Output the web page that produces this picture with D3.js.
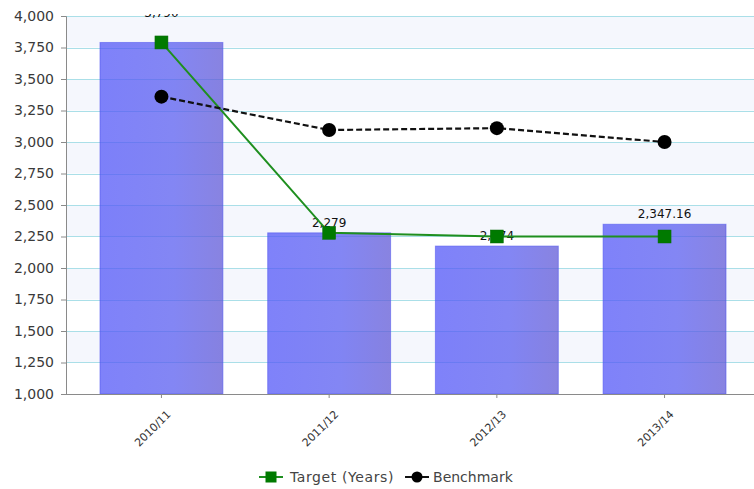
<!DOCTYPE html>
<html>
<head>
<meta charset="utf-8">
<script src="https://cdnjs.cloudflare.com/ajax/libs/d3/7.8.5/d3.min.js"></script>
<style>
  html, body { margin: 0; padding: 0; background: #fff; }
  svg { display: block; font-family: "DejaVu Sans", Verdana, sans-serif; }
</style>
</head>
<body>
<svg id="chart" width="754" height="489"></svg>
<script>
// Financial years on the x axis
const categories = ["2010/11", "2011/12", "2012/13", "2013/14"];
// Actual values (bars)
const actualValues = [3790, 2279, 2174, 2347.16];
// Target line
const targetValues = [3790, 2279, 2250, 2250];
// Benchmark line
const benchmarkValues = [3360, 3095, 3110, 3000];
// Y axis ticks
const yTicks = [1000, 1250, 1500, 1750, 2000, 2250, 2500, 2750, 3000, 3250, 3500, 3750, 4000];

const W = 754, H = 489;
const plot = { left: 66, right: 754, top: 16, bottom: 394 };

const svg = d3.select("#chart");
const defs = svg.append("defs");

const grad = defs.append("linearGradient")
  .attr("id", "barFill").attr("x1", "0%").attr("x2", "100%").attr("y1", "0%").attr("y2", "0%");
grad.append("stop").attr("offset", "0%").attr("stop-color", "#5256f8");
grad.append("stop").attr("offset", "60%").attr("stop-color", "#585cf0");
grad.append("stop").attr("offset", "100%").attr("stop-color", "#5f58d6");

// Labels are cut off just above the plot area
defs.append("clipPath").attr("id", "labelClip")
  .append("rect").attr("x", 0).attr("y", 14).attr("width", W).attr("height", H);

const y = d3.scaleLinear().domain([1000, 4000]).range([plot.bottom, plot.top]);
const x = d3.scaleBand().domain(categories)
  .range([77.6, 748.4]).paddingInner(0.267).paddingOuter(0.1335);

// Alternating background bands
const bands = d3.pairs(yTicks);
svg.append("g").selectAll("rect").data(bands).join("rect")
  .attr("x", plot.left).attr("width", plot.right - plot.left)
  .attr("y", d => y(d[1])).attr("height", d => y(d[0]) - y(d[1]))
  .attr("fill", (d, i) => i % 2 === 1 ? "#f5f7fd" : "#ffffff");

// Horizontal grid lines
svg.append("g").selectAll("line").data(yTicks.slice(1)).join("line")
  .attr("x1", plot.left).attr("x2", plot.right)
  .attr("y1", d => Math.round(y(d)) + 0.5).attr("y2", d => Math.round(y(d)) + 0.5)
  .attr("stroke", "#aadfe8").attr("stroke-width", 1.2);

// Bars
svg.append("g").selectAll("rect").data(categories).join("rect")
  .attr("x", d => x(d)).attr("width", x.bandwidth())
  .attr("y", (d, i) => y(actualValues[i]))
  .attr("height", (d, i) => y(1000) - y(actualValues[i]))
  .attr("fill", "url(#barFill)").attr("fill-opacity", 0.74)
  .attr("stroke", "#4f53ee").attr("stroke-opacity", 0.55).attr("stroke-width", 1);

// Axes
const yAxis = svg.append("g").attr("transform", `translate(${plot.left},0)`)
  .call(d3.axisLeft(y).tickValues(yTicks).tickSize(5).tickPadding(7).tickFormat(d3.format(",")));
yAxis.select(".domain").attr("stroke", "#8a8a8a");
yAxis.selectAll(".tick line").attr("stroke", "#8a8a8a");
yAxis.selectAll("text").attr("font-size", 14).attr("fill", "#3a3a3a")
  .attr("font-family", "DejaVu Sans, sans-serif");

const xAxis = svg.append("g").attr("transform", `translate(0,${plot.bottom})`)
  .call(d3.axisBottom(x).tickSize(4).tickSizeOuter(0));
xAxis.select(".domain").attr("stroke", "#8a8a8a").attr("d", `M${plot.left},0.5H${plot.right}`);
xAxis.selectAll(".tick line").attr("stroke", "#8a8a8a");
xAxis.selectAll("text")
  .attr("font-size", 11).attr("fill", "#333").attr("font-family", "DejaVu Sans, sans-serif")
  .attr("text-anchor", "end").attr("dy", null).attr("y", 0)
  .attr("transform", "translate(10,21) rotate(-45)");

// Value labels above bars; a label too close to the top is pushed up and clipped
svg.append("g").attr("clip-path", "url(#labelClip)")
  .selectAll("text").data(categories).join("text")
  .attr("x", d => x(d) + x.bandwidth() / 2)
  .attr("y", (d, i) => {
    const ly = y(actualValues[i]) - 6;
    return ly < plot.top + 24 ? plot.top + 0.5 : ly;
  })
  .attr("text-anchor", "middle").attr("font-size", 12).attr("fill", "#111")
  .text((d, i) => d3.format(",")(actualValues[i]));

const cx = d => x(d) + x.bandwidth() / 2;

// Target line
const seriesLine = d3.line().x((d, i) => cx(categories[i])).y(d => y(d));
svg.append("path").datum(targetValues)
  .attr("d", seriesLine).attr("fill", "none")
  .attr("stroke", "#1f8f1f").attr("stroke-width", 2);
svg.append("g").selectAll("rect").data(targetValues).join("rect")
  .attr("x", (d, i) => cx(categories[i]) - 6.5).attr("y", d => y(d) - 6.5)
  .attr("width", 13).attr("height", 13)
  .attr("fill", "#007a00").attr("stroke", "#0a6a0a").attr("stroke-width", 0.5);

// Benchmark line
svg.append("path").datum(benchmarkValues)
  .attr("d", seriesLine).attr("fill", "none")
  .attr("stroke", "#111").attr("stroke-width", 2.2).attr("stroke-dasharray", "6,3");
svg.append("g").selectAll("circle").data(benchmarkValues).join("circle")
  .attr("cx", (d, i) => cx(categories[i])).attr("cy", d => y(d))
  .attr("r", 7).attr("fill", "#000");

// Legend
const legend = svg.append("g").attr("transform", "translate(259,477)");
const lg1 = legend.append("g");
lg1.append("line").attr("x1", 0).attr("x2", 24).attr("y1", 0).attr("y2", 0)
  .attr("stroke", "#1f8f1f").attr("stroke-width", 2);
lg1.append("rect").attr("x", 6.5).attr("y", -5.5).attr("width", 11).attr("height", 11).attr("fill", "#007a00");
const t1 = lg1.append("text").attr("x", 31).attr("y", 5).attr("font-size", 14).attr("fill", "#444")
  .attr("letter-spacing", 0.6)
  .text("Target (Years)");
const w1 = t1.node().getComputedTextLength();
const lg2 = legend.append("g").attr("transform", `translate(${31 + w1 + 11},0)`);
lg2.append("line").attr("x1", 0).attr("x2", 24).attr("y1", 0).attr("y2", 0)
  .attr("stroke", "#111").attr("stroke-width", 2);
lg2.append("circle").attr("cx", 12).attr("cy", 0).attr("r", 5.5).attr("fill", "#000");
lg2.append("text").attr("x", 28).attr("y", 5).attr("font-size", 14).attr("fill", "#444")
  .text("Benchmark");
</script>
</body>
</html>
